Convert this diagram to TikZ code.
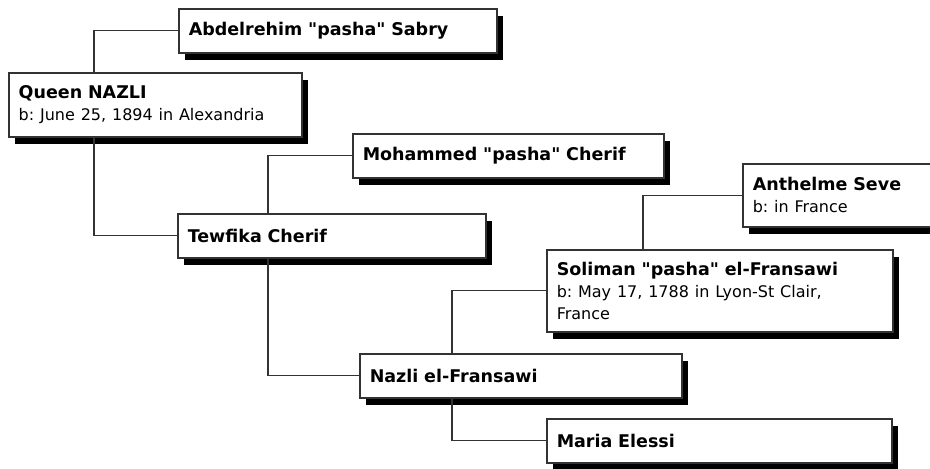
\documentclass[tikz,border=0pt]{standalone}
\usepackage{fontspec}
\setmainfont{DejaVu Sans}
\usetikzlibrary{shadows}
\frenchspacing

% one box per person, with the black shadow of the original chart
\tikzset{
	person/.style={draw=black!80, line width=1.5pt, fill=white, anchor=north west,
		align=left, inner xsep=10pt, inner ysep=0pt, text width=#1, minimum height=44pt,
		font=\fontsize{17.5}{22}\selectfont\bfseries,
		drop shadow={shadow xshift=6pt, shadow yshift=-7pt, fill=black, opacity=1}},
	link/.style={draw=black!80, line width=1.4pt}
}
\newcommand{\born}[1]{{\fontsize{16}{22}\selectfont\mdseries #1}}
\newcommand{\qd}{\textquotedbl}

\begin{document}
\begin{tikzpicture}[x=1pt, y=-1pt] % one unit is one pixel of the chart, y runs down
	\useasboundingbox (0,0) rectangle (930,469);
	\clip (0,0) rectangle (930,469);
	
	% the people
	\node[person=298pt] (abd) at (178,8) {Abdelrehim \qd pasha\qd{} Sabry};
	\node[person=273pt, minimum height=64pt] (queen) at (8,72) {Queen NAZLI\\\born{b: June 25, 1894 in Alexandria}};
	\node[person=291pt] (moh) at (352,133) {Mohammed \qd pasha\qd{} Cherif};
	\node[person=288pt] (tew) at (177,213) {Tewfika Cherif};
	\node[person=183pt, minimum height=63pt] (anth) at (742,163) {Anthelme Seve\\\born{b: in France}};
	\node[person=326pt, minimum height=82pt] (sol) at (546,249) {Soliman \qd pasha\qd{} el-Fransawi\\\born{b: May 17, 1788 in Lyon-St Clair,}\\\born{France}};
	\node[person=302pt] (naz) at (359,353) {Nazli el-Fransawi};
	\node[person=325pt] (maria) at (546,418) {Maria Elessi};
	
	% father above, mother below
	\draw[link] ([xshift=86pt]queen.north west) |- (abd.west);
	\draw[link] ([xshift=86pt]queen.south west) |- (tew.west);
	\draw[link] ([xshift=91pt]tew.north west) |- (moh.west);
	\draw[link] ([xshift=91pt]tew.south west) |- (naz.west);
	\draw[link] ([xshift=93pt]naz.north west) |- (sol.west);
	\draw[link] ([xshift=93pt]naz.south west) |- (maria.west);
	\draw[link] ([xshift=97pt]sol.north west) |- (anth.west);
\end{tikzpicture}
\end{document}
